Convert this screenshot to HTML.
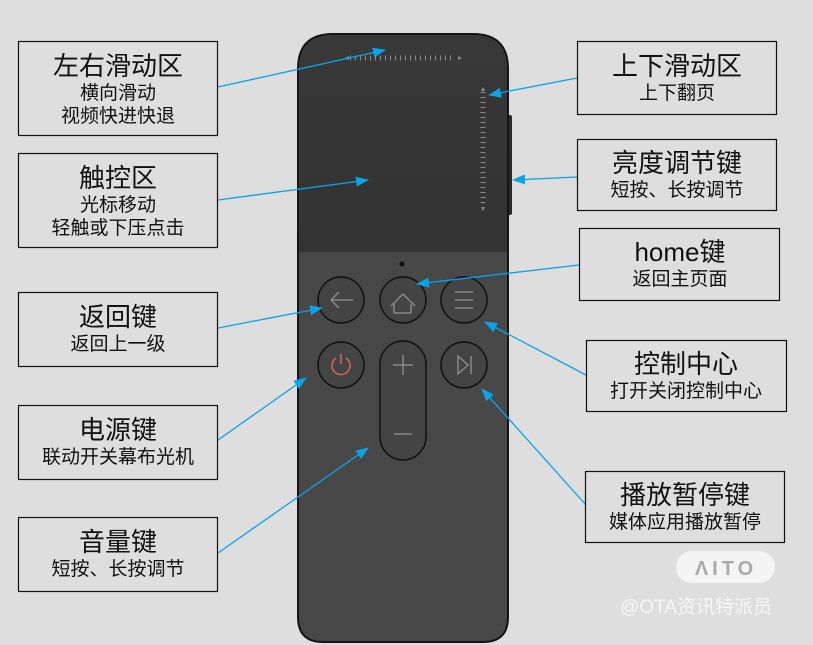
<!DOCTYPE html><html><head><meta charset="utf-8"><style>
body{margin:0;background:#dedede;}
svg{display:block}
text{font-family:"Liberation Sans","Noto Sans CJK SC",sans-serif;fill:#111;text-anchor:middle}
.t{font-size:26px}.s{font-size:19px}
</style></head><body>
<svg width="813" height="645" viewBox="0 0 813 645">
<defs><marker id="a" markerWidth="13" markerHeight="10" refX="12" refY="5" orient="auto" markerUnits="userSpaceOnUse"><path d="M0,0L13,5L0,10z" fill="#0aa3e8"/></marker>
<linearGradient id="g" x1="0" y1="0" x2="0" y2="1"><stop offset="0" stop-color="#383838"/><stop offset="1" stop-color="#333"/></linearGradient></defs>
<rect x="507" y="115" width="5" height="100" rx="2" fill="#2a2a2a"/>
<path d="M333,34H473Q508,34 508,69V617Q508,642 483,642H323Q298,642 298,617V69Q298,34 333,34Z" fill="#484848" stroke="#151515" stroke-width="2"/>
<path d="M333,35H473Q507,35 507,69V252H299V69Q299,35 333,35Z" fill="url(#g)"/>
<circle cx="402" cy="264" r="2.5" fill="#111"/>
<g stroke="#8a8a8a" stroke-width="1">
<line x1="350" y1="58" x2="455" y2="58" stroke-dasharray="1 4" stroke-width="5"/><line x1="483" y1="92" x2="483" y2="205" stroke-dasharray="1 4" stroke-width="5"/></g>
<path d="M345,58l4,-2v4z M458,56l4,2l-4,2z M483,87l-2,4h4z M483,211l-2,-4h4z" fill="#888"/>
<g fill="#444" stroke="#111" stroke-width="1.5">
<circle cx="341" cy="300" r="23"/><circle cx="403" cy="300" r="23"/><circle cx="464" cy="300" r="23"/>
<circle cx="341" cy="365" r="23"/><circle cx="464" cy="365" r="23"/>
<rect x="380" y="341" width="46" height="119" rx="23"/></g>
<g stroke="#888" stroke-width="1.5" fill="none">
<path d="M353,300H331M339,292l-8,8l8,8"/>
<path d="M394,304v9h17v-9M391,306l12,-12l12,12" stroke-linejoin="round"/>
<path d="M455,292h18M455,300h18M455,308h18"/>
<path d="M458,356v18l10,-9z M471,356v18"/>
<path d="M403,355v20M393,365h20M394,434h18"/></g>
<path d="M336,358a9,9 0 1,0 10,0M341,354v10" stroke="#c06060" stroke-width="1.8" fill="none"/>
<g stroke="#0aa3e8" stroke-width="1.3" marker-end="url(#a)">
<line x1="218" y1="87" x2="385" y2="50"/><line x1="218" y1="200" x2="368" y2="180"/>
<line x1="218" y1="328" x2="322" y2="308"/><line x1="218" y1="440" x2="306" y2="378"/>
<line x1="218" y1="553" x2="368" y2="448"/><line x1="577" y1="78" x2="489" y2="95"/>
<line x1="577" y1="177" x2="513" y2="180"/><line x1="579" y1="265" x2="417" y2="284"/>
<line x1="586" y1="375" x2="485" y2="322"/><line x1="586" y1="505" x2="482" y2="389"/></g>
<g fill="none" stroke="#111" stroke-width="1.2">
<rect x="18.5" y="41.5" width="199" height="94"/><rect x="18.5" y="153.5" width="199" height="94"/>
<rect x="18.5" y="292.5" width="199" height="74"/><rect x="18.5" y="405.5" width="199" height="74"/>
<rect x="18.5" y="517.5" width="199" height="74"/>
<rect x="577.5" y="41.5" width="199" height="73"/><rect x="577.5" y="139.5" width="199" height="71"/>
<rect x="579.5" y="228.5" width="200" height="72"/><rect x="586.5" y="340.5" width="200" height="71"/>
<rect x="585.5" y="471.5" width="199" height="71"/></g>
<text x="118" y="75" class="t">左右滑动区</text><text x="118" y="99" class="s">横向滑动</text><text x="118" y="122" class="s">视频快进快退</text>
<text x="118" y="187" class="t">触控区</text><text x="118" y="211" class="s">光标移动</text><text x="118" y="234" class="s">轻触或下压点击</text>
<text x="118" y="326" class="t">返回键</text><text x="118" y="350" class="s">返回上一级</text>
<text x="118" y="439" class="t">电源键</text><text x="118" y="463" class="s">联动开关幕布光机</text>
<text x="118" y="551" class="t">音量键</text><text x="118" y="575" class="s">短按、长按调节</text>
<text x="677" y="75" class="t">上下滑动区</text><text x="677" y="99" class="s">上下翻页</text>
<text x="677" y="172" class="t">亮度调节键</text><text x="677" y="196" class="s">短按、长按调节</text>
<text x="680" y="261" class="t">home键</text><text x="680" y="285" class="s">返回主页面</text>
<text x="686" y="373" class="t">控制中心</text><text x="686" y="397" class="s">打开关闭控制中心</text>
<text x="685" y="504" class="t">播放暂停键</text><text x="685" y="528" class="s">媒体应用播放暂停</text>
<rect x="676" y="551" width="99" height="32" rx="16" fill="#f4f4f4"/>
<text x="726" y="575" style="font-size:20px;font-weight:bold;fill:#aaa;letter-spacing:4px">ΛITO</text>
<text x="696" y="613" style="font-size:19px;fill:#f6f6f6">@OTA资讯特派员</text>
</svg></body></html>
